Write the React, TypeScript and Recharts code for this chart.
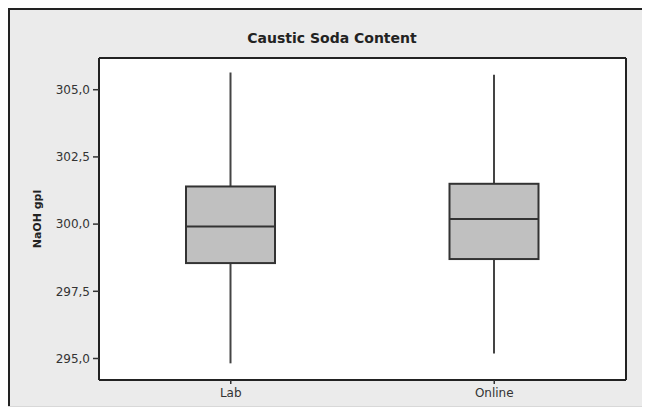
import React from 'react';
import { ComposedChart, Bar, XAxis, YAxis, CartesianGrid } from 'recharts';

const categories = ['Lab', 'Online'];
const whiskerLow = [294.82, 295.19];
const q1 = [298.55, 298.7];
const median = [299.91, 300.19];
const q3 = [301.4, 301.5];
const whiskerHigh = [305.64, 305.56];
const yTicks = [295, 297.5, 300, 302.5, 305];
const yDomain = [294.2, 306.18];

const data = categories.map((name, i) => ({
  name,
  range: [whiskerLow[i], whiskerHigh[i]],
  low: whiskerLow[i],
  q1: q1[i],
  median: median[i],
  q3: q3[i],
  high: whiskerHigh[i],
}));

const BoxShape = (props: any) => {
  const { x, y, width, height, payload } = props;
  const top = Math.min(y, y + height);
  const h = Math.abs(height);
  const lo = payload.low;
  const hi = payload.high;
  const ppu = h / (hi - lo);
  const yOf = (v: number) => top + (hi - v) * ppu;
  const cx = x + width / 2;
  return (
    <g>
      <line x1={cx} x2={cx} y1={yOf(hi)} y2={yOf(payload.q3)} stroke="#444" strokeWidth={2} />
      <line x1={cx} x2={cx} y1={yOf(payload.q1)} y2={yOf(lo)} stroke="#444" strokeWidth={2} />
      <rect
        x={x}
        y={yOf(payload.q3)}
        width={width}
        height={yOf(payload.q1) - yOf(payload.q3)}
        fill="#c0c0c0"
        stroke="#333"
        strokeWidth={2}
      />
      <line x1={x} x2={x + width} y1={yOf(payload.median)} y2={yOf(payload.median)} stroke="#333" strokeWidth={2} />
    </g>
  );
};

const fmt = (v: number) => v.toFixed(1).replace('.', ',');

const font = 'DejaVu Sans, Verdana, sans-serif';
const frame = { stroke: '#222', strokeWidth: 2 };

export default function App() {
  return (
    <div
      style={{
        position: 'relative',
        width: 642,
        height: 399,
        background: '#ebebeb',
        fontFamily: font,
      }}
    >
      <div style={{ position: 'absolute', left: 0, top: 0, width: 642, height: 2, background: '#222' }} />
      <div style={{ position: 'absolute', left: 0, top: 0, width: 2, height: 399, background: '#222' }} />
      <div style={{ position: 'absolute', left: 0, top: 398, width: 642, height: 1, background: '#d8d8d8' }} />
      <div
        style={{
          position: 'absolute',
          left: 174,
          top: 22,
          width: 300,
          textAlign: 'center',
          fontSize: 14,
          lineHeight: '16px',
          fontWeight: 'bold',
          color: '#222',
        }}
      >
        Caustic Soda Content
      </div>
      <div style={{ position: 'absolute', left: 0, top: 0 }}>
        <ComposedChart
          width={642}
          height={399}
          data={data}
          margin={{ top: 49, right: 23, left: 0, bottom: 2 }}
          style={{ fontFamily: font }}
        >
          <CartesianGrid fill="#ffffff" fillOpacity={1} horizontal={false} vertical={false} />
          <XAxis
            dataKey="name"
            height={25}
            axisLine={frame}
            tickSize={4}
            tickMargin={4}
            tickLine={{ stroke: '#333', strokeWidth: 1.5 }}
            tick={{ fill: '#333', fontSize: 12, fontFamily: font }}
          />
          <XAxis
            xAxisId="top"
            dataKey="name"
            orientation="top"
            height={1}
            axisLine={frame}
            tick={false}
            tickLine={false}
          />
          <YAxis
            type="number"
            domain={yDomain}
            ticks={yTicks}
            allowDataOverflow
            width={91}
            axisLine={frame}
            tickSize={6}
            tickMargin={3}
            tickLine={{ stroke: '#333', strokeWidth: 1.5 }}
            tickFormatter={fmt}
            tick={{ fill: '#333', fontSize: 12, fontFamily: font }}
            label={{
              value: 'NaOH gpl',
              content: (p: any) => {
                const vb = p.viewBox || { x: 0, y: 50, width: 91, height: 322 };
                const lx = vb.x + 29;
                const ly = vb.y + vb.height / 2;
                return (
                  <text
                    x={lx}
                    y={ly}
                    transform={`rotate(-90, ${lx}, ${ly})`}
                    textAnchor="middle"
                    dominantBaseline="central"
                    fontSize={11}
                    fontWeight="bold"
                    fill="#222"
                    fontFamily={font}
                  >
                    NaOH gpl
                  </text>
                );
              },
            }}
          />
          <YAxis
            yAxisId="right"
            orientation="right"
            type="number"
            domain={yDomain}
            allowDataOverflow
            width={1}
            axisLine={frame}
            tick={false}
            tickLine={false}
          />
          <Bar dataKey="range" barSize={89} shape={BoxShape} isAnimationActive={false} />
        </ComposedChart>
      </div>
    </div>
  );
}
